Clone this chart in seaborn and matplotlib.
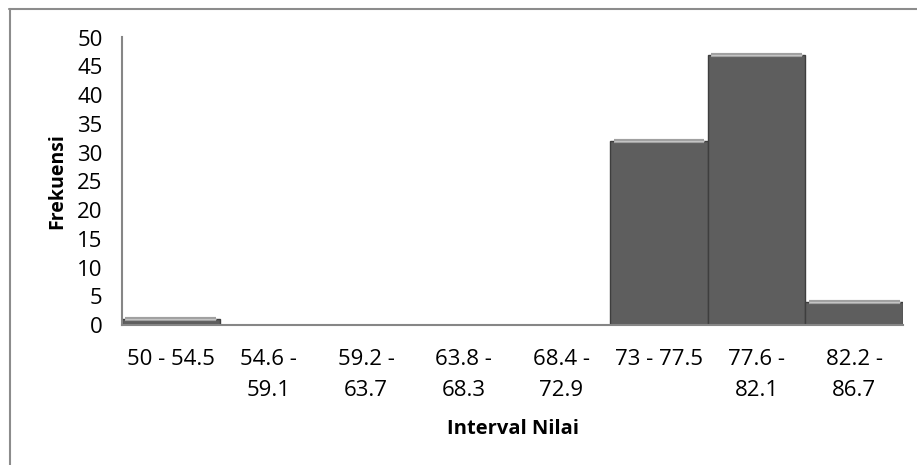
import matplotlib
matplotlib.use("Agg")
import matplotlib.pyplot as plt
from matplotlib.lines import Line2D
import seaborn as sns
import pandas as pd

# Frequency distribution of scores by class interval
intervals = ["50 - 54.5", "54.6 -\n59.1", "59.2 -\n63.7", "63.8 -\n68.3",
             "68.4 -\n72.9", "73 - 77.5", "77.6 -\n82.1", "82.2 -\n86.7"]
frekuensi = [1, 0, 0, 0, 0, 32, 47, 4]
y_ticks = [0, 5, 10, 15, 20, 25, 30, 35, 40, 45, 50]

df = pd.DataFrame({"Interval": intervals, "Frekuensi": frekuensi})

sns.set_style("white")
plt.rcParams["font.family"] = ["Open Sans", "DejaVu Sans"]
plt.rcParams["text.color"] = "#000000"

fig = plt.figure(figsize=(9.17, 4.65), dpi=100)
ax = fig.add_axes([122 / 917, 1 - 325 / 465, (903 - 122) / 917, (325 - 37.5) / 465])

sns.barplot(data=df, x="Interval", y="Frekuensi", ax=ax, width=1.0,
            color="#5e5e5e", saturation=1, edgecolor="#3e3e3e", linewidth=1.0)

# light bevel along the top edge of each bar
for bar in ax.patches:
    h = bar.get_height()
    if h <= 0:
        continue
    x0 = bar.get_x()
    w = bar.get_width()
    z = bar.get_zorder() + 1
    ax.plot([x0 + 0.035 * w, x0 + 0.965 * w], [h, h], color="#a0a0a0",
            linewidth=3.0, solid_capstyle="butt", zorder=z)
    ax.plot([x0 + 0.035 * w, x0 + 0.965 * w], [h, h], color="#c4c4c4",
            linewidth=0.8, solid_capstyle="butt", zorder=z)

ax.set_xlim(-0.5, len(intervals) - 0.5)
ax.set_ylim(0, 50)
ax.set_yticks(y_ticks)
ax.set_yticklabels([str(v) for v in y_ticks], fontsize=16)
ax.tick_params(axis="x", length=0, labelsize=16, pad=17, colors="#000000")
ax.tick_params(axis="y", length=6, width=1.2, color="#868686", direction="out",
               pad=8, labelcolor="#000000")
for lbl in ax.get_xticklabels():
    lbl.set_linespacing(1.68)
    lbl.set_verticalalignment("top")

for side in ["top", "right"]:
    ax.spines[side].set_visible(False)
for side in ["left", "bottom"]:
    ax.spines[side].set_color("#868686")
    ax.spines[side].set_linewidth(1.5)

ax.set_xlabel("Interval Nilai", fontsize=14.5, fontweight="bold", labelpad=12.5,
              color="#000000")
ax.set_ylabel("Frekuensi", fontsize=14, fontweight="bold", labelpad=7,
              color="#000000")

# outer chart frame (top and left edges)
fig.add_artist(Line2D([9 / 917, 1.0], [1 - 9.5 / 465, 1 - 9.5 / 465],
                      transform=fig.transFigure, color="#8c8c8c", linewidth=1.5))
fig.add_artist(Line2D([9.5 / 917, 9.5 / 917], [0, 1 - 9 / 465],
                      transform=fig.transFigure, color="#8c8c8c", linewidth=1.5))

fig.savefig("out.png", dpi=100)
